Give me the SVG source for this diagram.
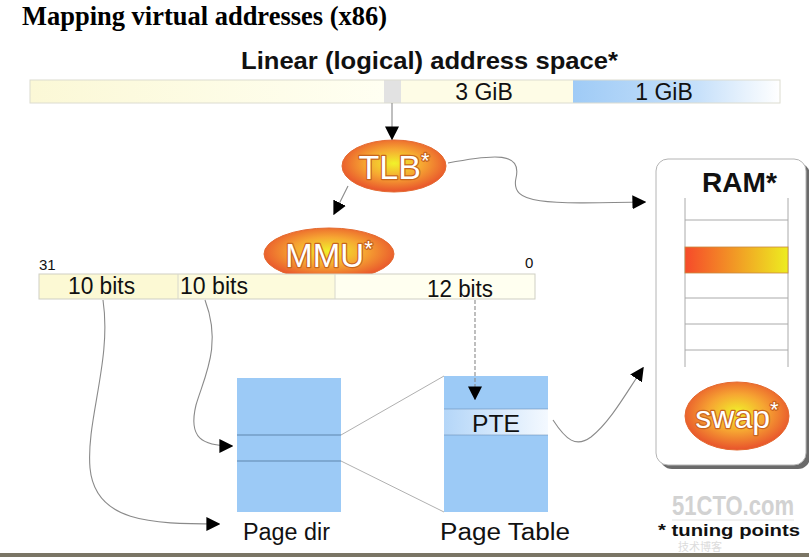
<svg xmlns="http://www.w3.org/2000/svg" width="809" height="557" viewBox="0 0 809 557">
<defs>
  <linearGradient id="gYel" x1="0" y1="0" x2="1" y2="0">
    <stop offset="0" stop-color="#fbf8d6"/>
    <stop offset="1" stop-color="#fffff2"/>
  </linearGradient>
  <linearGradient id="gBlue" x1="0" y1="0" x2="1" y2="0">
    <stop offset="0" stop-color="#9fcbf6"/>
    <stop offset="0.6" stop-color="#c6e0fa"/>
    <stop offset="1" stop-color="#ffffff"/>
  </linearGradient>
  <linearGradient id="gRam" x1="0" y1="0" x2="1" y2="0">
    <stop offset="0" stop-color="#f64a2a"/>
    <stop offset="1" stop-color="#eded20"/>
  </linearGradient>
  <linearGradient id="gPte" x1="0" y1="0" x2="1" y2="0">
    <stop offset="0" stop-color="#b4d6f8"/>
    <stop offset="1" stop-color="#f4f9ff"/>
  </linearGradient>
  <radialGradient id="gEll" cx="0.5" cy="0.45" r="0.55">
    <stop offset="0" stop-color="#f1f22a"/>
    <stop offset="0.5" stop-color="#f6a532"/>
    <stop offset="1" stop-color="#e8522c"/>
  </radialGradient>
  <marker id="arr" viewBox="0 0 10 10" refX="9" refY="5" markerWidth="14" markerHeight="14" markerUnits="userSpaceOnUse" orient="auto">
    <path d="M0,0 L10,5 L0,10 z" fill="#000"/>
  </marker>
  <style>
    .sans { font-family: "Liberation Sans", Arial, sans-serif; }
    .lbl { font-family: "Liberation Sans", Arial, sans-serif; font-size: 23px; fill: #111; }
    .ell { fill: url(#gEll); stroke: #e46a30; stroke-width: 1; }
    .etxt { font-family: "Liberation Sans", Arial, sans-serif; fill: #ffffff; stroke: #c8641e; stroke-width: 2.4; paint-order: stroke; stroke-linejoin: round; text-anchor: middle; }
    .conn { fill: none; stroke: #8a8a8a; stroke-width: 1.1; marker-end: url(#arr); }
    .tbl { fill: #9ccaf6; }
    .div { stroke: #5f86ad; stroke-width: 1; }
    .gl { stroke: #aaaaaa; stroke-width: 1; }
  </style>
</defs>
<rect width="809" height="557" fill="#ffffff"/>

<text x="22" y="25" font-family="Liberation Serif, Times New Roman, serif" font-weight="bold" font-size="27" textLength="365" lengthAdjust="spacingAndGlyphs" fill="#000">Mapping virtual addresses (x86)</text>

<g id="address-space">
  <text class="sans" x="241" y="69" font-weight="bold" font-size="24" textLength="377" lengthAdjust="spacingAndGlyphs" fill="#111">Linear (logical) address space*</text>
  <rect x="30" y="80" width="354" height="23" fill="url(#gYel)"/>
  <rect x="384" y="80" width="17" height="23" fill="#e2e2e2"/>
  <rect x="401" y="80" width="172" height="23" fill="#fefce6"/>
  <rect x="573" y="80" width="207" height="23" fill="url(#gBlue)"/>
  <rect x="30" y="80" width="750" height="23" fill="none" stroke="#dcdcd0" stroke-width="1"/>
  <text class="lbl" x="484" y="100" font-size="21" text-anchor="middle">3 GiB</text>
  <text class="lbl" x="664" y="100" font-size="21" text-anchor="middle">1 GiB</text>
</g>

<g id="tlb">
  <ellipse class="ell" cx="394" cy="166" rx="52" ry="26"/>
  <text class="etxt" x="394" y="179" font-size="34">TLB<tspan font-size="22" dy="-11">*</tspan></text>
</g>

<g id="mmu">
  <ellipse class="ell" cx="329" cy="254" rx="65" ry="26"/>
  <text class="etxt" x="329" y="267" font-size="33">MMU<tspan font-size="22" dy="-11">*</tspan></text>
</g>

<g id="bits">
  <text class="sans" x="39" y="270" font-size="15" fill="#111">31</text>
  <text class="sans" x="525" y="268" font-size="15" fill="#111">0</text>
  <rect x="39" y="274" width="139" height="25" fill="#fcf9d4"/>
  <rect x="178" y="274" width="157" height="25" fill="#fdfbdc"/>
  <rect x="335" y="274" width="200" height="25" fill="#fffff0"/>
  <rect x="39" y="274" width="496" height="25" fill="none" stroke="#cfcfc4" stroke-width="1"/>
  <line x1="178" y1="274" x2="178" y2="299" stroke="#d8d8cc"/>
  <line x1="335" y1="274" x2="335" y2="299" stroke="#d8d8cc"/>
  <text class="lbl" x="68" y="294" textLength="67" lengthAdjust="spacingAndGlyphs">10 bits</text>
  <text class="lbl" x="180" y="294" textLength="68" lengthAdjust="spacingAndGlyphs">10 bits</text>
  <text class="lbl" x="427" y="297" textLength="66" lengthAdjust="spacingAndGlyphs">12 bits</text>
</g>

<g id="page-dir">
  <rect class="tbl" x="237" y="378" width="104" height="134"/>
  <line class="div" x1="237" y1="435" x2="341" y2="435"/>
  <line class="div" x1="237" y1="461" x2="341" y2="461"/>
  <text class="lbl" x="243" y="540" font-size="26" textLength="87" lengthAdjust="spacingAndGlyphs">Page dir</text>
</g>

<g id="page-table">
  <rect class="tbl" x="444" y="376" width="104" height="136"/>
  <rect x="444" y="409" width="104" height="26" fill="url(#gPte)"/>
  <line class="div" x1="444" y1="409" x2="548" y2="409" stroke-opacity="0.5"/>
  <line class="div" x1="444" y1="435" x2="548" y2="435" stroke-opacity="0.5"/>
  <text class="lbl" x="472" y="432" font-size="25" textLength="48" lengthAdjust="spacingAndGlyphs">PTE</text>
  <text class="lbl" x="440" y="540" font-size="26" textLength="130" lengthAdjust="spacingAndGlyphs">Page Table</text>
</g>

<g id="ram">
  <rect x="660" y="163" width="150" height="306" rx="12" fill="#6a6a6a"/>
  <rect x="656" y="159" width="150" height="306" rx="12" fill="#ffffff" stroke="#b4b4b4" stroke-width="1"/>
  <text class="sans" x="702" y="192" font-weight="bold" font-size="28" textLength="75" lengthAdjust="spacingAndGlyphs" fill="#111">RAM*</text>
  <line class="gl" x1="685" y1="198" x2="685" y2="367"/>
  <line class="gl" x1="788" y1="198" x2="788" y2="367"/>
  <line class="gl" x1="685" y1="220" x2="788" y2="220"/>
  <rect x="685" y="247" width="103" height="26" fill="url(#gRam)" stroke="#c88a40" stroke-width="0.8"/>
  <line class="gl" x1="685" y1="298" x2="788" y2="298"/>
  <line class="gl" x1="685" y1="324" x2="788" y2="324"/>
  <line class="gl" x1="685" y1="350" x2="788" y2="350"/>
</g>

<g id="swap">
  <ellipse class="ell" cx="737" cy="416" rx="52" ry="34"/>
  <text class="etxt" x="737" y="428" font-size="32">swap<tspan font-size="22" dy="-11">*</tspan></text>
</g>

<g id="connectors">
  <line class="conn" x1="392" y1="103" x2="392" y2="139"/>
  <line class="conn" x1="348" y1="186" x2="334" y2="214"/>
  <path class="conn" d="M448,163 C495,154 522,152 516,178 C510,205 545,204 645,202"/>
  <path class="conn" d="M103,300 C112,360 86,420 90,468 C95,522 150,524 219,524"/>
  <path class="conn" d="M205,300 C222,345 205,375 196,405 C188,438 202,446 232,446"/>
  <line class="conn" x1="475" y1="300" x2="475" y2="399" stroke-dasharray="4,2"/>
  <path class="conn" d="M553,420 C566,440 576,448 591,437 C610,422 625,395 643,368"/>
  <line x1="341" y1="435" x2="444" y2="376" stroke="#b0b0b0" stroke-width="1"/>
  <line x1="341" y1="461" x2="444" y2="512" stroke="#b0b0b0" stroke-width="1"/>
</g>

<g id="legend">
  <text class="sans" transform="translate(672,515) scale(1,1.25)" x="0" y="0" font-weight="bold" font-size="22" textLength="122" lengthAdjust="spacingAndGlyphs" fill="#d2d2d2">51CTO.com</text>
  <line x1="672" y1="520" x2="794" y2="520" stroke="#e2e2e2" stroke-width="1"/>
  <text x="678" y="551" font-family="Noto Sans CJK SC, sans-serif" font-size="11" fill="#dcdcdc">技术博客</text>
  <text class="sans" x="658" y="536" font-weight="bold" font-size="17" textLength="142" lengthAdjust="spacingAndGlyphs" fill="#111">* tuning points</text>
</g>

<rect x="0" y="553" width="809" height="4" fill="#7a7565"/>
</svg>
